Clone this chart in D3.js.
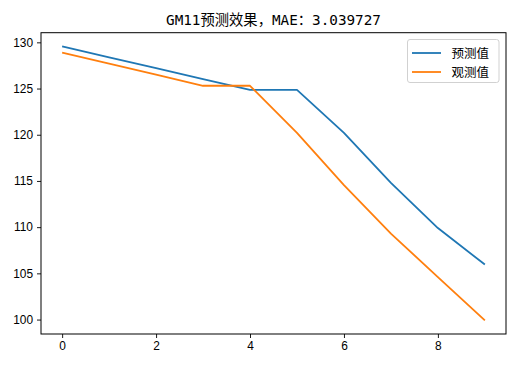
<!DOCTYPE html>
<html>
<head>
<meta charset="utf-8">
<script src="https://cdn.jsdelivr.net/npm/d3@7"></script>
<style>
  body { margin: 0; background: #fff; }
  .tick text { font-family: "Liberation Sans", Arial, sans-serif; font-size: 11.9px; fill: #000; }
</style>
</head>
<body>
<svg id="chart" width="515" height="366"></svg>
<script>

var xIdx      = [0, 1, 2, 3, 4, 5, 6, 7, 8, 9];
var predicted = [129.56, 128.38, 127.2, 126.03, 124.85, 124.85, 120.2, 114.8, 109.9, 105.95];
var observed  = [128.88, 127.7, 126.5, 125.3, 125.3, 120.2, 114.55, 109.3, 104.6, 99.92];
var xTicks    = [0, 2, 4, 6, 8];
var yTicks    = [100, 105, 110, 115, 120, 125, 130];
var seriesNames = ["预测值", "观测值"];
var colors    = ["#1f77b4", "#ff7f0e"];
var title     = "GM11预测效果，MAE：3.039727";

function draw_linechart( chart_name ){

	var svg = d3.select(chart_name);
	var margin = {left: 41, right: 9, top: 32.7, bottom: 32},
		width  = +svg.attr("width")  - margin.left - margin.right,
		height = +svg.attr("height") - margin.top  - margin.bottom;

	var all = predicted.concat(observed);
	var yMin = d3.min(all), yMax = d3.max(all), pad = (yMax - yMin) * 0.05;

	var xAxis = d3.scaleLinear().domain([ -0.45, 9.45 ]).range([ 0, width ]);
	var yAxis = d3.scaleLinear().domain([ yMin - pad, yMax + pad ]).range([ height, 0 ]);

	var g = svg.append("g")
		.attr("transform", "translate(" + margin.left + "," + margin.top + ")");

	g.append("g")
		.attr("transform", "translate(0," + height + ")")
		.call(d3.axisBottom(xAxis).tickValues(xTicks).tickSize(4).tickPadding(4).tickSizeOuter(0))
		.call(function(a){ a.select(".domain").remove(); });

	g.append("g")
		.call(d3.axisLeft(yAxis).tickValues(yTicks).tickSize(4).tickPadding(4).tickSizeOuter(0))
		.call(function(a){ a.select(".domain").remove(); });

	g.selectAll(".tick line").attr("stroke", "#000").attr("stroke-width", 0.9);

	[predicted, observed].forEach(function(series, i){
		g.append("path")
			.datum(series)
			.attr("fill", "none")
			.attr("stroke", colors[i])
			.attr("stroke-width", 1.8)
			.attr("stroke-linejoin", "round")
			.attr("d", d3.line()
				.x(function(d, j) { return xAxis(xIdx[j]); })
				.y(function(d) { return yAxis(d); })
			);
	});

	g.append("rect")
		.attr("width", width).attr("height", height)
		.attr("fill", "none").attr("stroke", "#000").attr("stroke-width", 1);

	svg.append("text")
		.attr("x", margin.left + width / 2)
		.attr("y", 25)
		.attr("text-anchor", "middle")
		.style("font-family", "'DejaVu Sans Mono', 'Noto Sans CJK SC', monospace")
		.style("font-size", "14.3px")
		.text(title);

	// legend
	var lg = svg.append("g").attr("transform", "translate(407.5,39.5)");
	lg.append("rect")
		.attr("width", 91.5).attr("height", 43).attr("rx", 2.5)
		.attr("fill", "#fff").attr("fill-opacity", 0.8)
		.attr("stroke", "#cccccc").attr("stroke-width", 0.9);
	seriesNames.forEach(function(name, i){
		var y = 13.5 + i * 19;
		lg.append("line")
			.attr("x1", 4.5).attr("x2", 33.5).attr("y1", y).attr("y2", y)
			.attr("stroke", colors[i]).attr("stroke-width", 1.8);
		lg.append("text")
			.attr("x", 44).attr("y", y + 4.5)
			.style("font-family", "'Noto Sans CJK SC', sans-serif")
			.style("font-size", "12.5px")
			.text(name);
	});
}

draw_linechart("#chart");
</script>
</body>
</html>
